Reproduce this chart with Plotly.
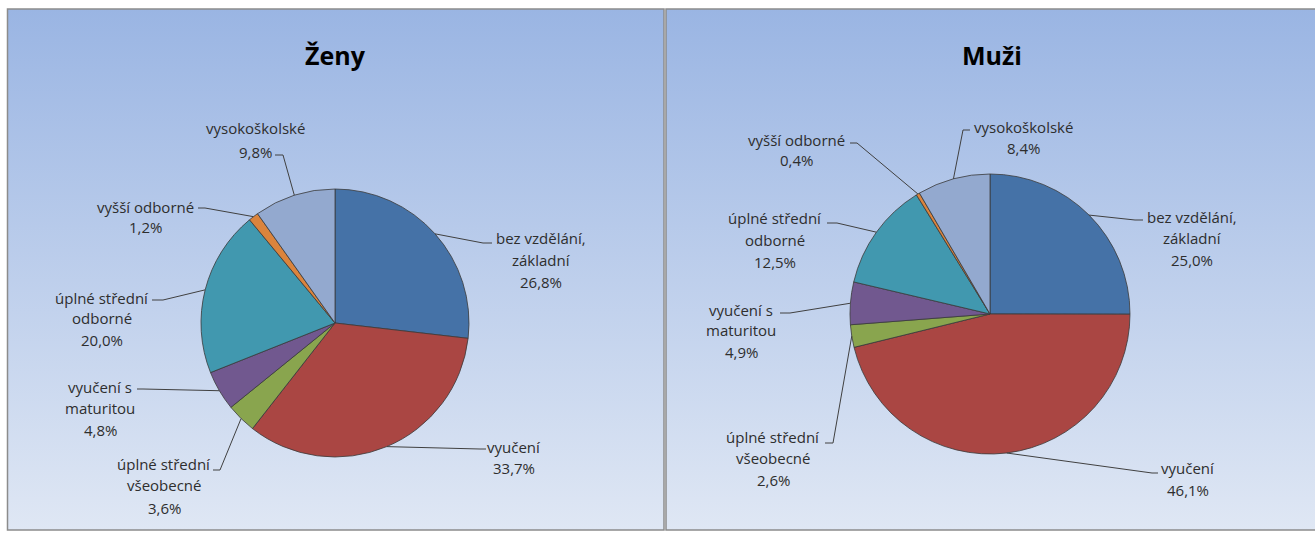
import base64
import math
import plotly.graph_objects as go

# ---------------- data ----------------
categories = [
    "bez vzdělání, základní",
    "vyučení",
    "úplné střední všeobecné",
    "vyučení s maturitou",
    "úplné střední odborné",
    "vyšší odborné",
    "vysokoškolské",
]
zeny_values = [26.8, 33.7, 3.6, 4.8, 20.0, 1.2, 9.8]
muzi_values = [25.0, 46.1, 2.6, 4.9, 12.5, 0.4, 8.4]
titles = ["Ženy", "Muži"]

# how each category name is wrapped in the labels
label_wrap = {
    "bez vzdělání, základní": ["bez vzdělání,", "základní"],
    "vyučení": ["vyučení"],
    "úplné střední všeobecné": ["úplné střední", "všeobecné"],
    "vyučení s maturitou": ["vyučení s", "maturitou"],
    "úplné střední odborné": ["úplné střední", "odborné"],
    "vyšší odborné": ["vyšší odborné"],
    "vysokoškolské": ["vysokoškolské"],
}

colors = ["#4572A7", "#AA4643", "#89A54E", "#71588F", "#4198AF", "#DB843D", "#93A9CF"]

# ---------------- layout (page pixels) ----------------
W, H = 1315, 533
PANELS = [(7.5, 9, 664, 530), (666, 9, 1325, 530)]
PIE_GEOM = [dict(cx=335, cy=323, r=134), dict(cx=990, cy=314, r=140)]
TITLE_POS = [(335, 55), (992, 55)]

# label placement: (text centre x, line centre ys, elbow point, end point)
LABELS_ZENY = [
    (541, [238, 260, 282], (483, 243), (492, 243)),
    (514, [447, 468], (480, 449), (486, 449)),
    (164, [464, 485, 508], (220, 470), (213, 470)),
    (100, [387, 408, 430], (143, 389), (137, 389)),
    (102, [298, 318, 340], (163, 300), (152, 300)),
    (145, [207, 227], (205, 208), (198, 208)),
    (255, [128, 152], (283, 155), (275, 155)),
]
LABELS_MUZI = [
    (1192, [217, 238, 260], (1135, 220), (1143, 220)),
    (1188, [468, 490], (1152, 473), (1158, 473)),
    (773, [437, 458, 480], (833, 443), (825, 443)),
    (741, [310, 330, 352], (790, 313), (780, 313)),
    (775, [218, 240, 262], (837, 223), (827, 223)),
    (796, [140, 160], (857, 143), (850, 143)),
    (1024, [127, 148], (963, 130), (970, 130)),
]

FONT = "Open Sans"
TEXT_COLOR = "#2e2e2e"
LINE_COLOR = "#404040"


def px(x):
    return x / W


def py(y):
    return 1 - y / H


def fmt(v):
    return f"{v:.1f}".replace(".", ",") + "%"


def gradient_uri(top, bottom):
    svg = (
        "<svg xmlns='http://www.w3.org/2000/svg' width='100' height='100' "
        "viewBox='0 0 100 100' preserveAspectRatio='none'>"
        "<defs><linearGradient id='g' x1='0' y1='0' x2='0' y2='1'>"
        f"<stop offset='0' stop-color='{top}'/>"
        f"<stop offset='1' stop-color='{bottom}'/>"
        "</linearGradient></defs>"
        "<rect x='0' y='0' width='100' height='100' fill='url(#g)'/></svg>"
    )
    return "data:image/svg+xml;base64," + base64.b64encode(svg.encode()).decode()


fig = go.Figure()
images, shapes, annotations = [], [], []

bg = gradient_uri("#9AB5E3", "#DFE7F4")
for (x0, y0, x1, y1) in PANELS:
    images.append(dict(source=bg, xref="paper", yref="paper", x=px(x0), y=py(y0),
                       sizex=px(x1) - px(x0), sizey=py(y0) - py(y1),
                       xanchor="left", yanchor="top", sizing="stretch", layer="below"))
    shapes.append(dict(type="rect", xref="paper", yref="paper",
                       x0=px(x0), x1=px(x1), y0=py(y1), y1=py(y0),
                       line=dict(color="#8C8C8C", width=1.5), fillcolor="rgba(0,0,0,0)",
                       layer="below"))

for values, geom, labels, title, tpos in zip(
    [zeny_values, muzi_values], PIE_GEOM, [LABELS_ZENY, LABELS_MUZI], titles, TITLE_POS
):
    cx, cy, r = geom["cx"], geom["cy"], geom["r"]
    fig.add_trace(go.Pie(
        labels=categories, values=values, sort=False, direction="clockwise", rotation=0,
        textinfo="none", hoverinfo="label+percent", showlegend=False,
        marker=dict(colors=colors, line=dict(color="#3a3a3a", width=0.8)),
        domain=dict(x=[px(cx - r), px(cx + r)], y=[py(cy + r), py(cy - r)]),
    ))
    annotations.append(dict(text=f"<b>{title}</b>", x=px(tpos[0]), y=py(tpos[1]),
                            xref="paper", yref="paper", showarrow=False,
                            xanchor="center", yanchor="middle",
                            font=dict(family=FONT, size=25, color="#000000")))
    total = sum(values)
    cum = 0.0
    for cat, v, (lx, lys, elbow, end) in zip(categories, values, labels):
        mid = (cum + v / 2) / total * 360
        cum += v
        ex = cx + r * math.sin(math.radians(mid))
        ey = cy - r * math.cos(math.radians(mid))
        path = (f"M {px(ex)},{py(ey)} L {px(elbow[0])},{py(elbow[1])} "
                f"L {px(end[0])},{py(end[1])}")
        shapes.append(dict(type="path", xref="paper", yref="paper", path=path,
                           line=dict(color=LINE_COLOR, width=1), layer="above"))
        lines = label_wrap[cat] + [fmt(v)]
        for txt, ly in zip(lines, lys):
            annotations.append(dict(text=txt, x=px(lx), y=py(ly), xref="paper", yref="paper",
                                    showarrow=False, xanchor="center", yanchor="middle",
                                    font=dict(family=FONT, size=15, color=TEXT_COLOR)))

fig.update_layout(
    width=W, height=H, margin=dict(l=0, r=0, t=0, b=0),
    paper_bgcolor="#FFFFFF", plot_bgcolor="rgba(0,0,0,0)",
    images=images, shapes=shapes, annotations=annotations,
)
fig.write_html("out.html", config={"displayModeBar": False},
               post_script="document.body.style.margin='0';document.body.style.overflow='hidden';")
